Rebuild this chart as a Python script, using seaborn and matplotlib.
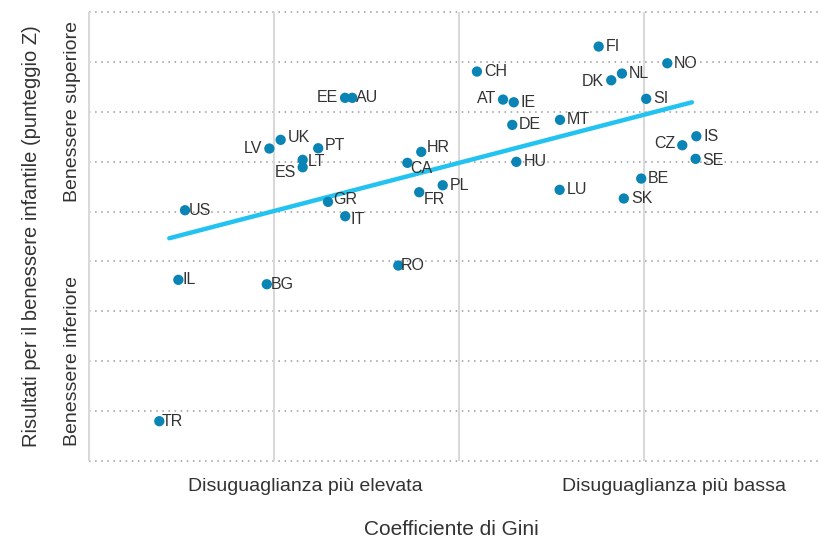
import matplotlib
matplotlib.use("Agg")
import matplotlib.pyplot as plt
import pandas as pd
import seaborn as sns

# data (x: Gini position, reversed so that left = more unequal)
countries = ["EE", "AU", "UK", "LV", "PT", "LT", "ES", "GR", "IT", "US", "RO",
             "CH", "FI", "NO", "NL", "DK", "SI", "AT", "IE", "DE", "MT", "HR",
             "CA", "HU", "PL", "FR", "LU", "BE", "SK", "CZ", "IS", "SE", "IL",
             "BG", "TR"]
gini_pos = [1.384, 1.423, 1.036, 0.975, 1.239, 1.155, 1.155, 1.292, 1.385, 0.519, 1.672,
            2.097, 2.755, 3.126, 2.881, 2.823, 3.012, 2.238, 2.296, 2.288, 2.546, 1.796,
            1.721, 2.310, 1.912, 1.785, 2.544, 2.985, 2.891, 3.207, 3.283, 3.279, 0.483,
            0.961, 0.380]
wellbeing_z = [2.279, 2.279, 1.437, 1.263, 1.269, 1.036, 0.888, 0.194, -0.094, 0.026, -1.082,
               2.806, 3.307, 2.972, 2.766, 2.631, 2.259, 2.244, 2.190, 1.737, 1.838, 1.196,
               0.976, 0.996, 0.527, 0.387, 0.435, 0.661, 0.261, 1.329, 1.509, 1.056, -1.369,
               -1.457, -4.202]
trend_x = [0.434, 3.259]
trend_y = [-0.535, 2.190]

x_tick_pos = [1.17, 3.16]
x_tick_labels = ["Disuguaglianza più elevata", "Disuguaglianza più bassa"]
y_tick_pos = [2.0, -3.0]
y_tick_labels = ["Benessere superiore", "Benessere inferiore"]

df = pd.DataFrame({"country": countries, "gini": gini_pos, "z": wellbeing_z})
trend = pd.DataFrame({"gini": trend_x, "z": trend_y})

# label placement (points): default is to the right of the dot
label_offsets = {
    "EE": (-5, 0, "right"), "LV": (-5, 0, "right"), "AT": (-5, 1, "right"),
    "DK": (-5, -1, "right"), "CZ": (-5, 1, "right"),
    "ES": (-5, -4, "right"), "LT": (4, -1.5, "left"), "CA": (2, -4, "left"),
    "FR": (3, -5, "left"), "HR": (4, 3, "left"), "IT": (4, -2.5, "left"),
    "GR": (4, 2, "left"), "PT": (5, 2, "left"), "UK": (5, 2, "left"),
    "SE": (5, -1.5, "left"), "TR": (1.5, 0, "left"), "RO": (2, 0, "left"),
    "BG": (2.5, 0, "left"), "IL": (3, 0, "left"), "US": (3, 0, "left"),
    "AU": (3, 0, "left"),
}

sns.set_theme(style="white")
plt.rcParams["font.family"] = ["Liberation Sans", "DejaVu Sans"]
txt = "#333333"

fig = plt.figure(figsize=(8.19, 5.40), dpi=100)
ax = fig.add_axes([0.1019, 0.1324, 0.899, 0.8593])
ax.set_xlim(-0.03, 3.95)
ax.set_ylim(-5.15, 4.15)

for s in ax.spines.values():
    s.set_visible(False)

# grid
ax.hlines(range(-5, 5), 0, 3.95, colors="#9a9a9a", linestyles=(0, (1, 3)), linewidth=1.1, zorder=0)
ax.vlines(range(0, 4), -5, 4, colors="#d9d9d9", linewidth=1.5, zorder=0)

sns.lineplot(data=trend, x="gini", y="z", color="#22c3f0", linewidth=3.2, ax=ax, zorder=2)
sns.scatterplot(data=df, x="gini", y="z", color="#0a84b4", s=55, edgecolor="none", ax=ax, zorder=3)

for c, x, y in zip(countries, gini_pos, wellbeing_z):
    dx, dy, ha = label_offsets.get(c, (5, 0, "left"))
    ax.annotate(c, (x, y), xytext=(dx, dy), textcoords="offset points",
                ha=ha, va="center", fontsize=11.5, color=txt, zorder=4)

ax.set_xticks(x_tick_pos)
ax.set_xticklabels(x_tick_labels, fontsize=14, color=txt)
ax.set_yticks(y_tick_pos)
ax.set_yticklabels(y_tick_labels, fontsize=14, color=txt, rotation=90, va="center")
ax.tick_params(axis="both", length=0)
ax.tick_params(axis="x", pad=7)
ax.tick_params(axis="y", pad=1.5)
ax.set_xlabel("Coefficiente di Gini", fontsize=15, color=txt, labelpad=18)
ax.set_ylabel("Risultati per il benessere infantile (punteggio Z)", fontsize=14.5,
              color=txt, labelpad=17)

plt.savefig("out.png", dpi=100)
